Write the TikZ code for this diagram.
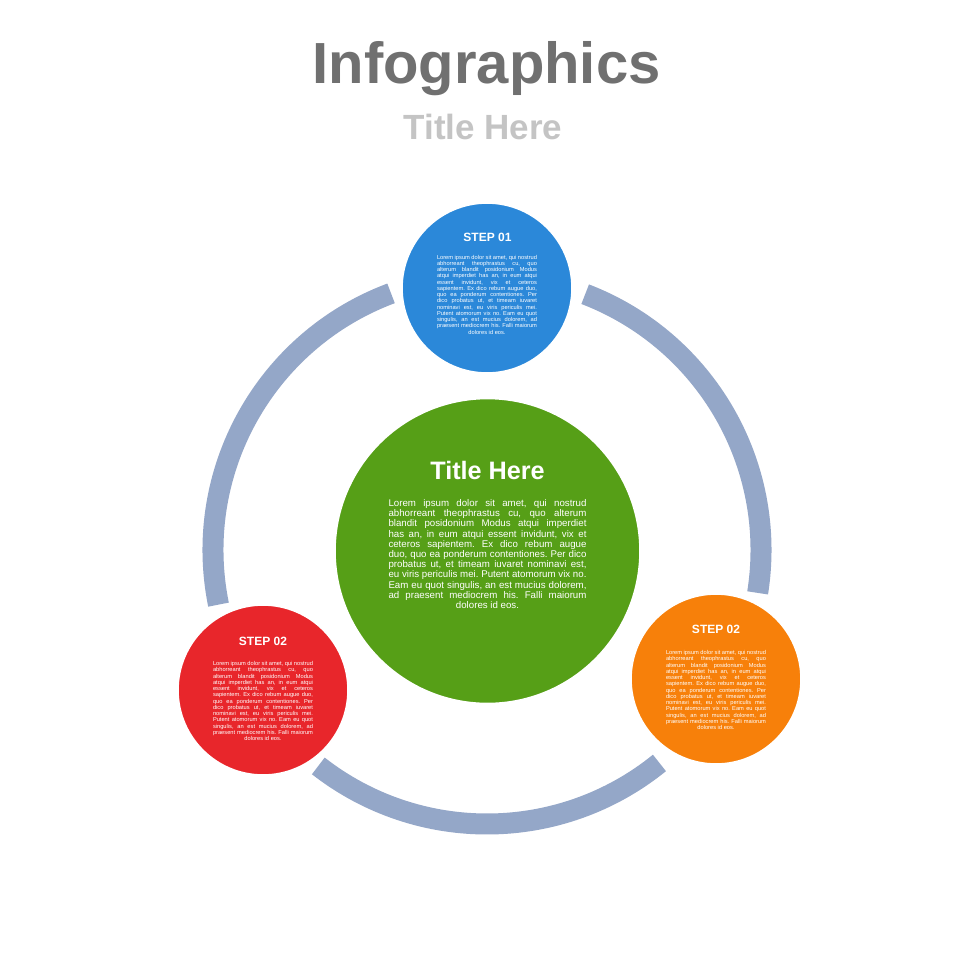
\documentclass[tikz,border=0pt]{standalone}
\usepackage{fontspec}
\setmainfont{Liberation Sans}
\frenchspacing
\definecolor{ringc}{RGB}{148,167,200}
\definecolor{bluec}{RGB}{43,136,217}
\definecolor{greenc}{RGB}{86,159,23}
\definecolor{redc}{RGB}{232,38,43}
\definecolor{orangec}{RGB}{247,128,10}
\definecolor{titlec}{RGB}{112,112,112}
\definecolor{subc}{RGB}{196,196,196}
\newcommand\jline[2]{\makebox[#1][s]{#2}\\}
\newcommand\smallpara{%
\jline{50pt}{Lorem ipsum dolor sit amet, qui nostrud}%
\jline{50pt}{abhorreant theophrastus cu, quo}%
\jline{50pt}{alterum blandit posidonium Modus}%
\jline{50pt}{atqui imperdiet has an, in eum atqui}%
\jline{50pt}{essent invidunt, vix et ceteros}%
\jline{50pt}{sapientem. Ex dico rebum augue duo,}%
\jline{50pt}{quo ea ponderum contentiones. Per}%
\jline{50pt}{dico probatus ut, et timeam iuvaret}%
\jline{50pt}{nominavi est, eu viris periculis mei.}%
\jline{50pt}{Putent atomorum vix no. Eam eu quot}%
\jline{50pt}{singulis, an est mucius dolorem, ad}%
\jline{50pt}{praesent mediocrem his. Falli maiorum}%
dolores id eos.}
\newcommand\bigpara{%
\jline{99pt}{Lorem ipsum dolor sit amet, qui nostrud}%
\jline{99pt}{abhorreant theophrastus cu, quo alterum}%
\jline{99pt}{blandit posidonium Modus atqui imperdiet}%
\jline{99pt}{has an, in eum atqui essent invidunt, vix et}%
\jline{99pt}{ceteros sapientem. Ex dico rebum augue}%
\jline{99pt}{duo, quo ea ponderum contentiones. Per dico}%
\jline{99pt}{probatus ut, et timeam iuvaret nominavi est,}%
\jline{99pt}{eu viris periculis mei. Putent atomorum vix no.}%
\jline{99pt}{Eam eu quot singulis, an est mucius dolorem,}%
\jline{99pt}{ad praesent mediocrem his. Falli maiorum}%
dolores id eos.}
\begin{document}
\begin{tikzpicture}[x=0.5pt,y=-0.5pt,
  ring/.style={draw=ringc,line width=10.5pt},
  bigdot/.style={circle,fill=#1,draw=white,line width=0.8pt,inner sep=0pt},
  steptitle/.style={anchor=base,text=white,font=\fontsize{6}{7}\selectfont\bfseries,inner sep=0pt},
  steptext/.style={text=white,align=center,inner sep=0pt,font=\fontsize{2.85}{3.125}\selectfont},
]
\useasboundingbox[fill=white] (0,0) rectangle (980,980);
% titles
\node[anchor=base,text=titlec,font=\fontsize{29}{32}\selectfont\bfseries,inner sep=0pt] (title) at (486.5,83) {Infographics};
\node[anchor=base,text=subc,font=\fontsize{17.5}{20}\selectfont\bfseries,inner sep=0pt] (subtitle) at (483,139) {Title Here};
% ring
\coordinate (ctr) at (487,550);
\draw[ring] (ctr) ++(110.5:137pt) arc[start angle=110.5,end angle=191.5,radius=137pt];
\draw[ring] (ctr) ++(232:137pt) arc[start angle=232,end angle=309,radius=137pt];
\draw[ring] (ctr) ++(-9:137pt) arc[start angle=-9,end angle=69,radius=137pt];
% circles
\node[bigdot=greenc,minimum size=152.5pt] (green) at (487.5,551) {};
\node[bigdot=bluec,minimum size=85pt] (blue) at (487,288) {};
\node[bigdot=redc,minimum size=85pt] (red) at (263,690) {};
\node[bigdot=orangec,minimum size=85pt] (orange) at (716,679) {};
% center text
\node[anchor=base,text=white,font=\fontsize{12.6}{14}\selectfont\bfseries,inner sep=0pt] (gtitle) at (487.5,479) {Title Here};
\node[text=white,align=center,inner sep=0pt,font=\fontsize{4.85}{5.1}\selectfont] (gtext) at (487.5,554) {\bigpara};
% step texts
\node[steptitle] (btitle) at (487.5,241.5) {STEP 01};
\node[steptext] (btext) at (487,294.5) {\smallpara};
\node[steptitle] (rtitle) at (263,645.5) {STEP 02};
\node[steptext] (rtext) at (263,701) {\smallpara};
\node[steptitle] (otitle) at (716,633.5) {STEP 02};
\node[steptext] (otext) at (716,690) {\smallpara};
\end{tikzpicture}
\end{document}
